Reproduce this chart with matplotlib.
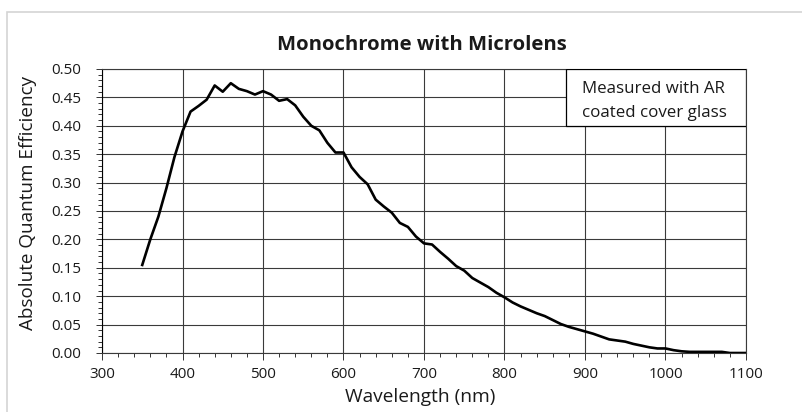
import matplotlib
matplotlib.use("Agg")
import matplotlib.pyplot as plt
from matplotlib.patches import Rectangle
from matplotlib.ticker import MultipleLocator, FormatStrFormatter

# absolute QE curve, monochrome sensor with microlens (AR coated cover glass)
wavelength = [350, 360, 370, 380, 390, 400, 410, 420, 430, 440,
              450, 460, 470, 480, 490, 500, 510, 520, 530, 540,
              550, 560, 570, 580, 590, 600, 610, 620, 630, 640,
              650, 660, 670, 680, 690, 700, 710, 720, 730, 740,
              750, 760, 770, 780, 790, 800, 810, 820, 830, 840,
              850, 860, 870, 880, 890, 900, 910, 920, 930, 940,
              950, 960, 970, 980, 990, 1000, 1010, 1020, 1030, 1040,
              1050, 1060, 1070, 1080, 1090, 1100]
qe = [0.155, 0.200, 0.240, 0.290, 0.345, 0.390, 0.425, 0.435, 0.446, 0.471,
      0.460, 0.475, 0.465, 0.461, 0.455, 0.461, 0.455, 0.444, 0.447, 0.436,
      0.416, 0.400, 0.392, 0.370, 0.353, 0.353, 0.327, 0.310, 0.297, 0.270,
      0.258, 0.247, 0.229, 0.222, 0.205, 0.193, 0.191, 0.178, 0.166, 0.153,
      0.145, 0.132, 0.124, 0.116, 0.106, 0.098, 0.089, 0.082, 0.076, 0.070,
      0.065, 0.058, 0.051, 0.046, 0.042, 0.038, 0.034, 0.029, 0.024, 0.022,
      0.020, 0.016, 0.013, 0.010, 0.008, 0.008, 0.005, 0.003, 0.002, 0.002,
      0.002, 0.002, 0.002, 0.000, 0.000, 0.000]

plt.rcParams["font.family"] = ["Open Sans", "DejaVu Sans"]
W, H = 802, 412
GRID = "#3a3a3a"

fig = plt.figure(figsize=(W / 100, H / 100), dpi=100)
ax = fig.add_axes([102 / W, 1 - 353 / H, 644 / W, 284 / H])

# light frame round the panel (top and left only visible)
fig.patches.append(Rectangle((7 / W, -0.1), 1.2, 1 - 12 / H + 0.1, transform=fig.transFigure,
                             fill=False, ec="#d4d4d4", lw=1.2))

ax.plot(wavelength, qe, color="black", lw=1.9, solid_joinstyle="round", zorder=3)

ax.set_xlim(300, 1100)
ax.set_ylim(0, 0.5)
ax.xaxis.set_major_locator(MultipleLocator(100))
ax.xaxis.set_minor_locator(MultipleLocator(20))
ax.yaxis.set_major_locator(MultipleLocator(0.05))
ax.yaxis.set_minor_locator(MultipleLocator(0.01))
ax.yaxis.set_major_formatter(FormatStrFormatter("%.2f"))
ax.grid(True, which="major", color=GRID, lw=0.8)
ax.set_axisbelow(True)
for s in ax.spines.values():
    s.set_color(GRID)
    s.set_linewidth(0.8)
ax.spines["left"].set_color("black")

ax.tick_params(axis="both", which="both", direction="out", color="#333333", width=0.7, labelsize=11,
               labelcolor="#1a1a1a")
ax.tick_params(axis="y", which="major", length=4, pad=11)
ax.tick_params(axis="y", which="minor", length=3)
ax.tick_params(axis="x", which="major", length=5, pad=5)
ax.tick_params(axis="x", which="minor", length=3)

# note box in the top right corner
ax.add_patch(Rectangle((0.7205, 0.799), 0.2795, 0.201, transform=ax.transAxes,
                       fc="white", ec="black", lw=0.9, zorder=4))
ax.text(0.745, 0.887, "Measured with AR\ncoated cover glass", transform=ax.transAxes,
        ha="left", va="center", fontsize=12.2, color="#1a1a1a", linespacing=1.65, zorder=5)

fig.text(421.5 / W, 1 - 50 / H, "Monochrome with Microlens", ha="center", va="baseline",
         fontsize=14.6, fontweight="bold", color="#1a1a1a")
fig.text(420 / W, 1 - 402 / H, "Wavelength (nm)", ha="center", va="baseline",
         fontsize=13.8, color="#1a1a1a")
fig.text(28 / W, 1 - 203 / H, "Absolute Quantum Efficiency", ha="center", va="center",
         rotation=90, fontsize=13.6, color="#1a1a1a")

fig.savefig("out.png", dpi=100, facecolor="white")
